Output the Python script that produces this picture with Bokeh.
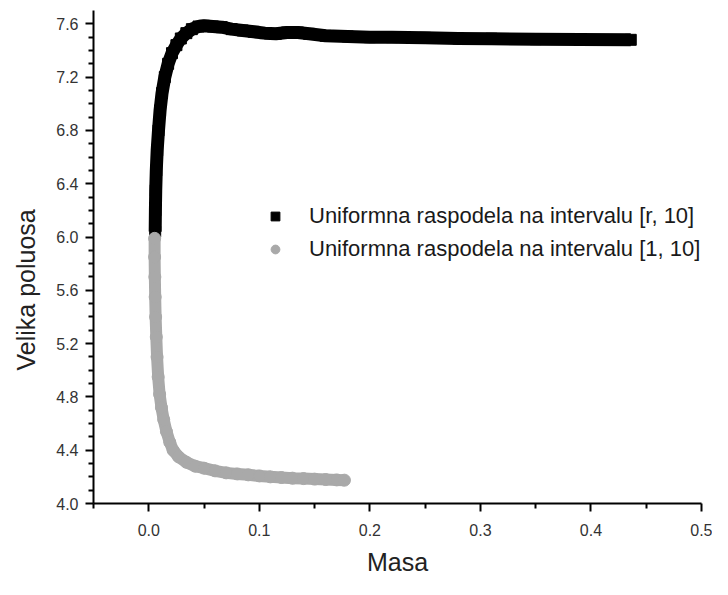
from bokeh.plotting import figure
from bokeh.models import (FixedTicker, PrintfTickFormatter, Legend, LegendItem,
                          Title, Range1d)
from bokeh.embed import file_html
from bokeh.resources import INLINE

# ---------------- data ----------------
x_label = "Masa"
y_label = "Velika poluosa"
series_names = ["Uniformna raspodela na intervalu [r, 10]",
                "Uniformna raspodela na intervalu [1, 10]"]

black_x = [0.0058, 0.0060, 0.0063, 0.0068, 0.0076, 0.0088, 0.0102, 0.0120, 0.0145,
           0.0175, 0.0210, 0.0250, 0.0290, 0.0340, 0.0390, 0.0450, 0.0500, 0.0580,
           0.0660, 0.0750, 0.0850, 0.0950, 0.1050, 0.1150, 0.1250, 0.1350, 0.1450,
           0.1600, 0.1800, 0.2000, 0.2200, 0.2500, 0.2800, 0.3100, 0.3500, 0.3900,
           0.4360]
black_y = [6.04, 6.20, 6.35, 6.50, 6.65, 6.80, 6.95, 7.08, 7.20,
           7.30, 7.38, 7.44, 7.49, 7.53, 7.56, 7.58, 7.585, 7.58,
           7.575, 7.56, 7.55, 7.54, 7.53, 7.525, 7.535, 7.535, 7.525,
           7.51, 7.505, 7.50, 7.50, 7.495, 7.49, 7.488, 7.485, 7.482,
           7.48]

gray_x = [0.0053, 0.0053, 0.0055, 0.0058, 0.0062, 0.0068, 0.0075, 0.0085, 0.0098,
          0.0115, 0.0135, 0.0160, 0.0190, 0.0220, 0.0270, 0.0340, 0.0420, 0.0500,
          0.0600, 0.0700, 0.0800, 0.0900, 0.1000, 0.1100, 0.1200, 0.1300, 0.1400,
          0.1500, 0.1600, 0.1700, 0.1770]
gray_y = [5.99, 5.85, 5.70, 5.55, 5.40, 5.25, 5.10, 4.95, 4.82,
          4.72, 4.63, 4.54, 4.46, 4.40, 4.35, 4.31, 4.28, 4.265,
          4.245, 4.23, 4.222, 4.215, 4.207, 4.20, 4.195, 4.19, 4.187,
          4.183, 4.18, 4.177, 4.175]

x_major = [0.0, 0.1, 0.2, 0.3, 0.4, 0.5]
x_minor = [-0.05, 0.05, 0.15, 0.25, 0.35, 0.45]
y_major = [4.0, 4.4, 4.8, 5.2, 5.6, 6.0, 6.4, 6.8, 7.2, 7.6]
y_minor = [4.1, 4.2, 4.3, 4.5, 4.6, 4.7, 4.9, 5.0, 5.1, 5.3, 5.4, 5.5,
           5.7, 5.8, 5.9, 6.1, 6.2, 6.3, 6.5, 6.6, 6.7, 6.9, 7.0, 7.1,
           7.3, 7.4, 7.5]

FONT = "Liberation Sans"
GRAY = "#a9a9a9"

# ---------------- figure ----------------
p = figure(width=712, height=579,
           x_range=Range1d(-0.05, 0.5), y_range=Range1d(4.0, 7.7),
           output_backend="svg", toolbar_location=None,
           min_border_left=93, min_border_right=11,
           min_border_top=10, min_border_bottom=76)
p.outline_line_color = None
p.grid.visible = False
p.background_fill_color = "white"
p.border_fill_color = "white"

p.xaxis.ticker = FixedTicker(ticks=x_major, minor_ticks=x_minor)
p.yaxis.ticker = FixedTicker(ticks=y_major, minor_ticks=y_minor)
for ax in (p.xaxis[0], p.yaxis[0]):
    ax.formatter = PrintfTickFormatter(format="%.1f")
    ax.axis_line_width = 2
    ax.axis_line_color = "black"
    ax.major_tick_line_width = 2
    ax.minor_tick_line_width = 2
    ax.major_tick_line_color = "black"
    ax.minor_tick_line_color = "black"
    ax.major_tick_in = 0
    ax.minor_tick_in = 0
    ax.major_label_text_font = FONT
    ax.major_label_text_font_size = "16px"
    ax.major_label_text_color = "#333333"

p.xaxis.major_tick_out = 8
p.xaxis.minor_tick_out = 5
p.xaxis.major_label_standoff = 12
p.yaxis.major_tick_out = 8
p.yaxis.minor_tick_out = 5
p.yaxis.major_label_standoff = 7

p.xaxis.axis_label = x_label
p.xaxis.axis_label_text_font = FONT
p.xaxis.axis_label_text_font_size = "25px"
p.xaxis.axis_label_text_font_style = "normal"
p.xaxis.axis_label_text_color = "#222222"
p.xaxis.axis_label_standoff = 9

ytitle = Title(text=y_label, align="left", offset=133, vertical_align="top",
               text_font=FONT, text_font_size="25px", text_font_style="normal",
               text_color="#222222", standoff=23)
p.add_layout(ytitle, "left")

# ---------------- series ----------------
p.line(black_x, black_y, line_width=13, line_color="black", line_join="round")
sq = p.scatter(black_x, black_y, marker="square", size=11,
               fill_color="black", line_color="black")
p.line(gray_x, gray_y, line_width=12, line_color=GRAY, line_join="round")
ci = p.scatter(gray_x, gray_y, marker="circle", size=12,
               fill_color=GRAY, line_color=GRAY)

legend = Legend(items=[LegendItem(label=series_names[0], renderers=[sq]),
                       LegendItem(label=series_names[1], renderers=[ci])],
                location=(171, 241), glyph_width=22, glyph_height=22,
                label_standoff=23, spacing=7, padding=0, margin=0,
                border_line_color=None, background_fill_alpha=0,
                label_text_font=FONT, label_text_font_size="22px",
                label_text_color="#1a1a1a")
p.add_layout(legend)

open("out.html", "w").write(file_html(p, INLINE))
